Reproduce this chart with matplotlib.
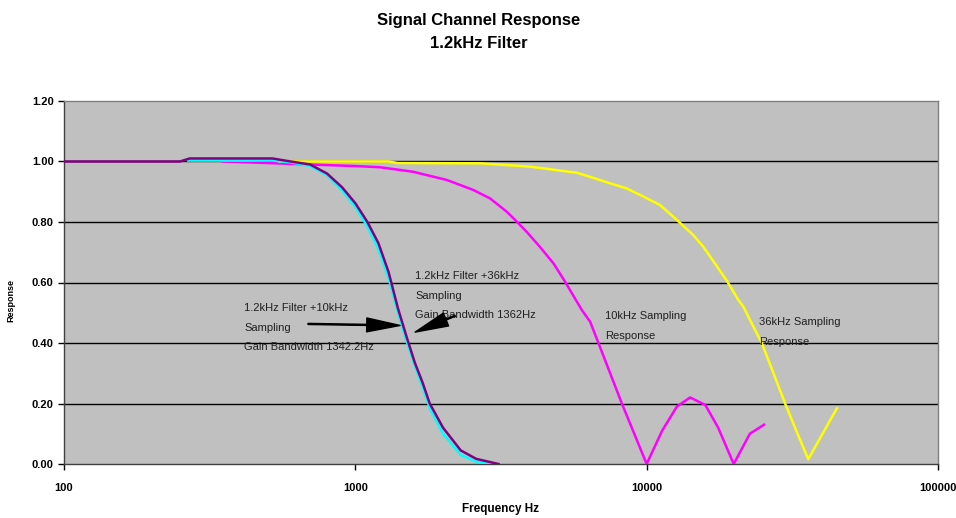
import matplotlib
matplotlib.use("Agg")
import matplotlib.pyplot as plt
from matplotlib.ticker import FixedLocator, FixedFormatter, NullLocator

plt.rcParams['font.family'] = ['Liberation Sans', 'DejaVu Sans']

# ---- data ----
purple_f = [100, 250, 270, 520, 600, 700, 800, 900, 1000, 1100, 1200, 1300, 1400,
            1500, 1600, 1700, 1800, 2000, 2300, 2600, 3100]
purple_v = [1.00, 1.00, 1.01, 1.01, 1.00, 0.99, 0.96, 0.915, 0.862, 0.80, 0.73, 0.635, 0.515,
            0.42, 0.335, 0.27, 0.20, 0.12, 0.045, 0.017, 0.0]

cyan_f = [267, 520, 600, 700, 800, 900, 1000, 1100, 1200, 1300, 1400,
          1500, 1600, 1700, 1800, 2000, 2300, 2600, 2900]
cyan_v = [1.003, 1.003, 0.997, 0.985, 0.955, 0.905, 0.85, 0.785, 0.71, 0.615, 0.50,
          0.405, 0.325, 0.255, 0.185, 0.10, 0.03, 0.008, 0.0]

magenta_f = [350, 500, 700, 1000, 1216, 1580, 2060, 2540, 2900, 3310, 3535, 3870, 4300,
             4790, 5245, 5990, 6400, 6830, 8220, 10000, 11300, 12700, 14100, 15900,
             17600, 19900, 22600, 25300]
magenta_v = [1.00, 0.995, 0.99, 0.985, 0.981, 0.966, 0.939, 0.906, 0.878, 0.834, 0.807, 0.768,
             0.718, 0.663, 0.603, 0.509, 0.47, 0.40, 0.20, 0.0, 0.11, 0.19, 0.22, 0.195,
             0.12, 0.0, 0.10, 0.13]

yellow_f = [550, 1000, 1300, 1400, 2680, 3980, 5045, 5750, 6560, 7480, 8540, 9750, 11120,
            12690, 14450, 15650, 16950, 18840, 20650, 21470, 23240, 24840, 27240, 29870,
            32720, 35870, 44960]
yellow_v = [1.00, 1.00, 1.00, 0.995, 0.994, 0.983, 0.970, 0.963, 0.946, 0.928, 0.911, 0.884,
            0.856, 0.807, 0.757, 0.718, 0.670, 0.606, 0.542, 0.52, 0.454, 0.40, 0.30, 0.20,
            0.107, 0.016, 0.184]

x_ticks = [100, 1000, 10000, 100000]
x_tick_labels = ["100", "1000", "10000", "100000"]
y_ticks = [0.0, 0.2, 0.4, 0.6, 0.8, 1.0, 1.2]
y_tick_labels = ["0.00", "0.20", "0.40", "0.60", "0.80", "1.00", "1.20"]

# ---- figure ----
fig = plt.figure(figsize=(9.56, 5.18), dpi=100)
ax = fig.add_axes([64/956, 1-464/518, (938-64)/956, (464-101)/518])
ax.set_facecolor('#C0C0C0')

ax.set_xscale('log')
ax.set_xlim(100, 100000)
ax.set_ylim(0, 1.2)

for y in y_ticks[1:-1]:
    ax.axhline(y, color='black', lw=1.0, zorder=1)

ax.plot(magenta_f, magenta_v, color='#FF00FF', lw=1.8, zorder=3)
ax.plot(yellow_f, yellow_v, color='#FFFF00', lw=1.8, zorder=3)
ax.plot(cyan_f, cyan_v, color='#00FFFF', lw=1.8, zorder=4)
ax.plot(purple_f, purple_v, color='#800080', lw=1.8, zorder=5)

ax.xaxis.set_major_locator(FixedLocator(x_ticks))
ax.xaxis.set_major_formatter(FixedFormatter(x_tick_labels))
ax.xaxis.set_minor_locator(NullLocator())
ax.yaxis.set_major_locator(FixedLocator(y_ticks))
ax.yaxis.set_major_formatter(FixedFormatter(y_tick_labels))

ax.tick_params(axis='both', direction='out', length=4, width=1, colors='black',
               labelsize=8)
ax.tick_params(axis='x', pad=10)
for lab in ax.get_xticklabels() + ax.get_yticklabels():
    lab.set_fontweight('bold')

for s in ax.spines.values():
    s.set_color('#808080')
    s.set_linewidth(1.0)
ax.spines['left'].set_color('#404040')
ax.spines['bottom'].set_color('#404040')

ax.set_xlabel('Frequency Hz', fontsize=8.5, fontweight='bold', va='center')
ax.xaxis.set_label_coords((500-64)/874, (464-509)/363)
ax.set_ylabel('Response', fontsize=6.5, fontweight='bold')
ax.yaxis.set_label_coords((15-64)/874, (464-300)/363)

fig.text(0.501, 1-20/518, 'Signal Channel Response', ha='center', va='center',
         fontsize=12, fontweight='bold')
fig.text(0.501, 1-43/518, '1.2kHz Filter', ha='center', va='center',
         fontsize=12, fontweight='bold')

# annotations
txt_kw = dict(fontsize=8, color='#202020', va='top', ha='left', linespacing=2.2)
ax.text(10**(2 + (244-64)/291.3), 0.532,
        '1.2kHz Filter +10kHz\nSampling\nGain Bandwidth 1342.2Hz', **txt_kw)
ax.text(10**(2 + (415-64)/291.3), 0.638,
        '1.2kHz Filter +36kHz\nSampling\nGain Bandwidth 1362Hz', **txt_kw)
ax.text(10**(2 + (605-64)/291.3), 0.505,
        '10kHz Sampling\nResponse', **txt_kw)
ax.text(10**(2 + (759-64)/291.3), 0.485,
        '36kHz Sampling\nResponse', **txt_kw)

arrow1_tail = (688, 0.463)
arrow1_tip = (1424, 0.458)
arrow2_tail = (2200, 0.49)
arrow2_tip = (1604, 0.436)
ap = dict(facecolor='black', edgecolor='black', width=0.8, headwidth=10, headlength=24, shrink=0)
ax.annotate('', xy=arrow1_tip, xytext=arrow1_tail, arrowprops=ap, zorder=6)
ax.annotate('', xy=arrow2_tip, xytext=arrow2_tail, arrowprops=ap, zorder=6)

fig.savefig('out.png', dpi=100)
